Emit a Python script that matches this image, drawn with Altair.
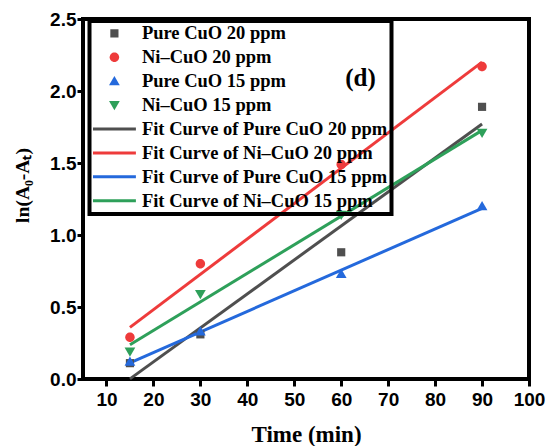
import altair as alt
import pandas as pd

# ---- data ----
time_min = [15, 30, 60, 90]
pure_cuo_20 = [0.11, 0.31, 0.88, 1.89]
ni_cuo_20 = [0.29, 0.80, 1.49, 2.17]
pure_cuo_15 = [0.12, 0.33, 0.73, 1.20]
ni_cuo_15 = [0.19, 0.59, 1.14, 1.71]

series_names = ["Pure CuO 20 ppm", "Ni–CuO 20 ppm", "Pure CuO 15 ppm", "Ni–CuO 15 ppm"]
fit_names = ["Fit Curve of " + s for s in series_names]
series_colors = ["#4f4f4f", "#ee3b3b", "#2469dc", "#2ea05a"]

x_tick_values = [10, 15, 20, 25, 30, 35, 40, 45, 50, 55, 60, 65, 70, 75, 80, 85, 90, 95, 100]
y_tick_values = [0, 0.25, 0.5, 0.75, 1.0, 1.25, 1.5, 1.75, 2.0, 2.25, 2.5]

panel_label = ["(d)"]
panel_label_x = [64.1]
panel_label_y = [2.09]

# marker shapes (unit box scaled by sqrt(size)/2)
shape_square = "M-0.19,-0.19H0.19V0.19H-0.19Z"
shape_circle = "M-0.22,0A0.22,0.22,0,1,0,0.22,0A0.22,0.22,0,1,0,-0.22,0Z"
shape_tri_up = "M0,-0.24L0.25,0.19L-0.25,0.19Z"
shape_tri_down = "M0,0.24L0.25,-0.19L-0.25,-0.19Z"
shape_line = "M-1,-0.07H1V0.07H-1Z"

rows = []
for name, vals in zip(series_names, [pure_cuo_20, ni_cuo_20, pure_cuo_15, ni_cuo_15]):
    for t, v in zip(time_min, vals):
        rows.append({"t": t, "v": v, "series": name})
df = pd.DataFrame(rows)

legend_domain = series_names + fit_names
legend_colors = series_colors + series_colors
legend_shapes = [shape_square, shape_circle, shape_tri_up, shape_tri_down] + [shape_line] * 4

SYM = 1849

legend = alt.Legend(
    title=None, orient="none", legendX=6.5, legendY=2,
    strokeColor="black", padding=3.4, rowPadding=4.9, clipHeight=18,
    labelOffset=6, symbolSize=SYM, symbolStrokeWidth=0, symbolOpacity=1,
    labelFont="Liberation Serif", labelFontSize=18.5, labelFontWeight="bold",
    labelColor="black", labelLimit=500,
)

xaxis = alt.Axis(
    values=x_tick_values, title="Time (min)",
    labelExpr="datum.value % 10 == 0 ? datum.label : ''",
    tickSize={"condition": {"test": "datum.value % 10 == 0", "value": 7}, "value": 4.5},
    tickWidth=3, tickColor="black", grid=False, domain=False,
    labelFont="Liberation Sans", labelFontSize=19, labelFontWeight="bold", labelColor="black",
    labelPadding=4, labelFlush=False, labelOverlap=False,
    titleFont="Liberation Serif", titleFontSize=23, titleFontWeight="bold", titleColor="black",
    titleY=44, titleBaseline="top",
)
yaxis = alt.Axis(
    values=y_tick_values, title="ln(A₀-Aₜ)",
    labelExpr="abs(datum.value*2 - round(datum.value*2)) < 0.001 ? format(datum.value, '.1f') : ''",
    tickSize={"condition": {"test": "abs(datum.value*2 - round(datum.value*2)) < 0.001", "value": 6}, "value": 4},
    tickWidth=3, tickColor="black", grid=False, domain=False,
    labelFont="Liberation Sans", labelFontSize=19, labelFontWeight="bold", labelColor="black",
    labelPadding=1, labelFlush=False, labelOverlap=False,
    titleFont="Liberation Serif", titleFontSize=19.5, titleFontWeight="bold", titleColor="black",
    titleX=-61, titleY=166, titleBaseline="middle",
)

xs = alt.Scale(domain=[5, 100], nice=False, zero=False)
ys = alt.Scale(domain=[0, 2.5], nice=False, zero=False)

fits = alt.Chart(df).transform_regression(
    "t", "v", groupby=["series"]
).transform_calculate(
    fit="'Fit Curve of ' + datum.series"
).mark_line(strokeWidth=3).encode(
    x=alt.X("t:Q", scale=xs, axis=xaxis),
    y=alt.Y("v:Q", scale=ys, axis=yaxis),
    stroke=alt.Stroke("fit:N", scale=alt.Scale(domain=fit_names, range=series_colors), legend=None),
    detail="fit:N",
)

points = alt.Chart(df).mark_point(filled=True, size=SYM, opacity=1, strokeWidth=0).encode(
    x=alt.X("t:Q", scale=xs),
    y=alt.Y("v:Q", scale=ys),
    color=alt.Color("series:N", scale=alt.Scale(domain=legend_domain, range=legend_colors), legend=legend),
    shape=alt.Shape("series:N", scale=alt.Scale(domain=legend_domain, range=legend_shapes), legend=legend),
)

lab_df = pd.DataFrame({"x": panel_label_x, "y": panel_label_y, "label": panel_label})
dtext = alt.Chart(lab_df).mark_text(
    font="Liberation Serif", fontSize=25, fontWeight="bold", color="black"
).encode(x=alt.X("x:Q", scale=xs), y=alt.Y("y:Q", scale=ys), text="label:N")

chart = alt.layer(fits, points, dtext).properties(
    width=446, height=360,
    padding={"left": 83, "top": 19, "right": 20, "bottom": 67},
    autosize=alt.AutoSizeParams(type="none"),
    background="white",
).configure_view(
    stroke="black", strokeWidth=4
).configure_legend(
    strokeWidth=4
)

chart.save("out.html", embed_options={"renderer": "svg", "actions": False})
